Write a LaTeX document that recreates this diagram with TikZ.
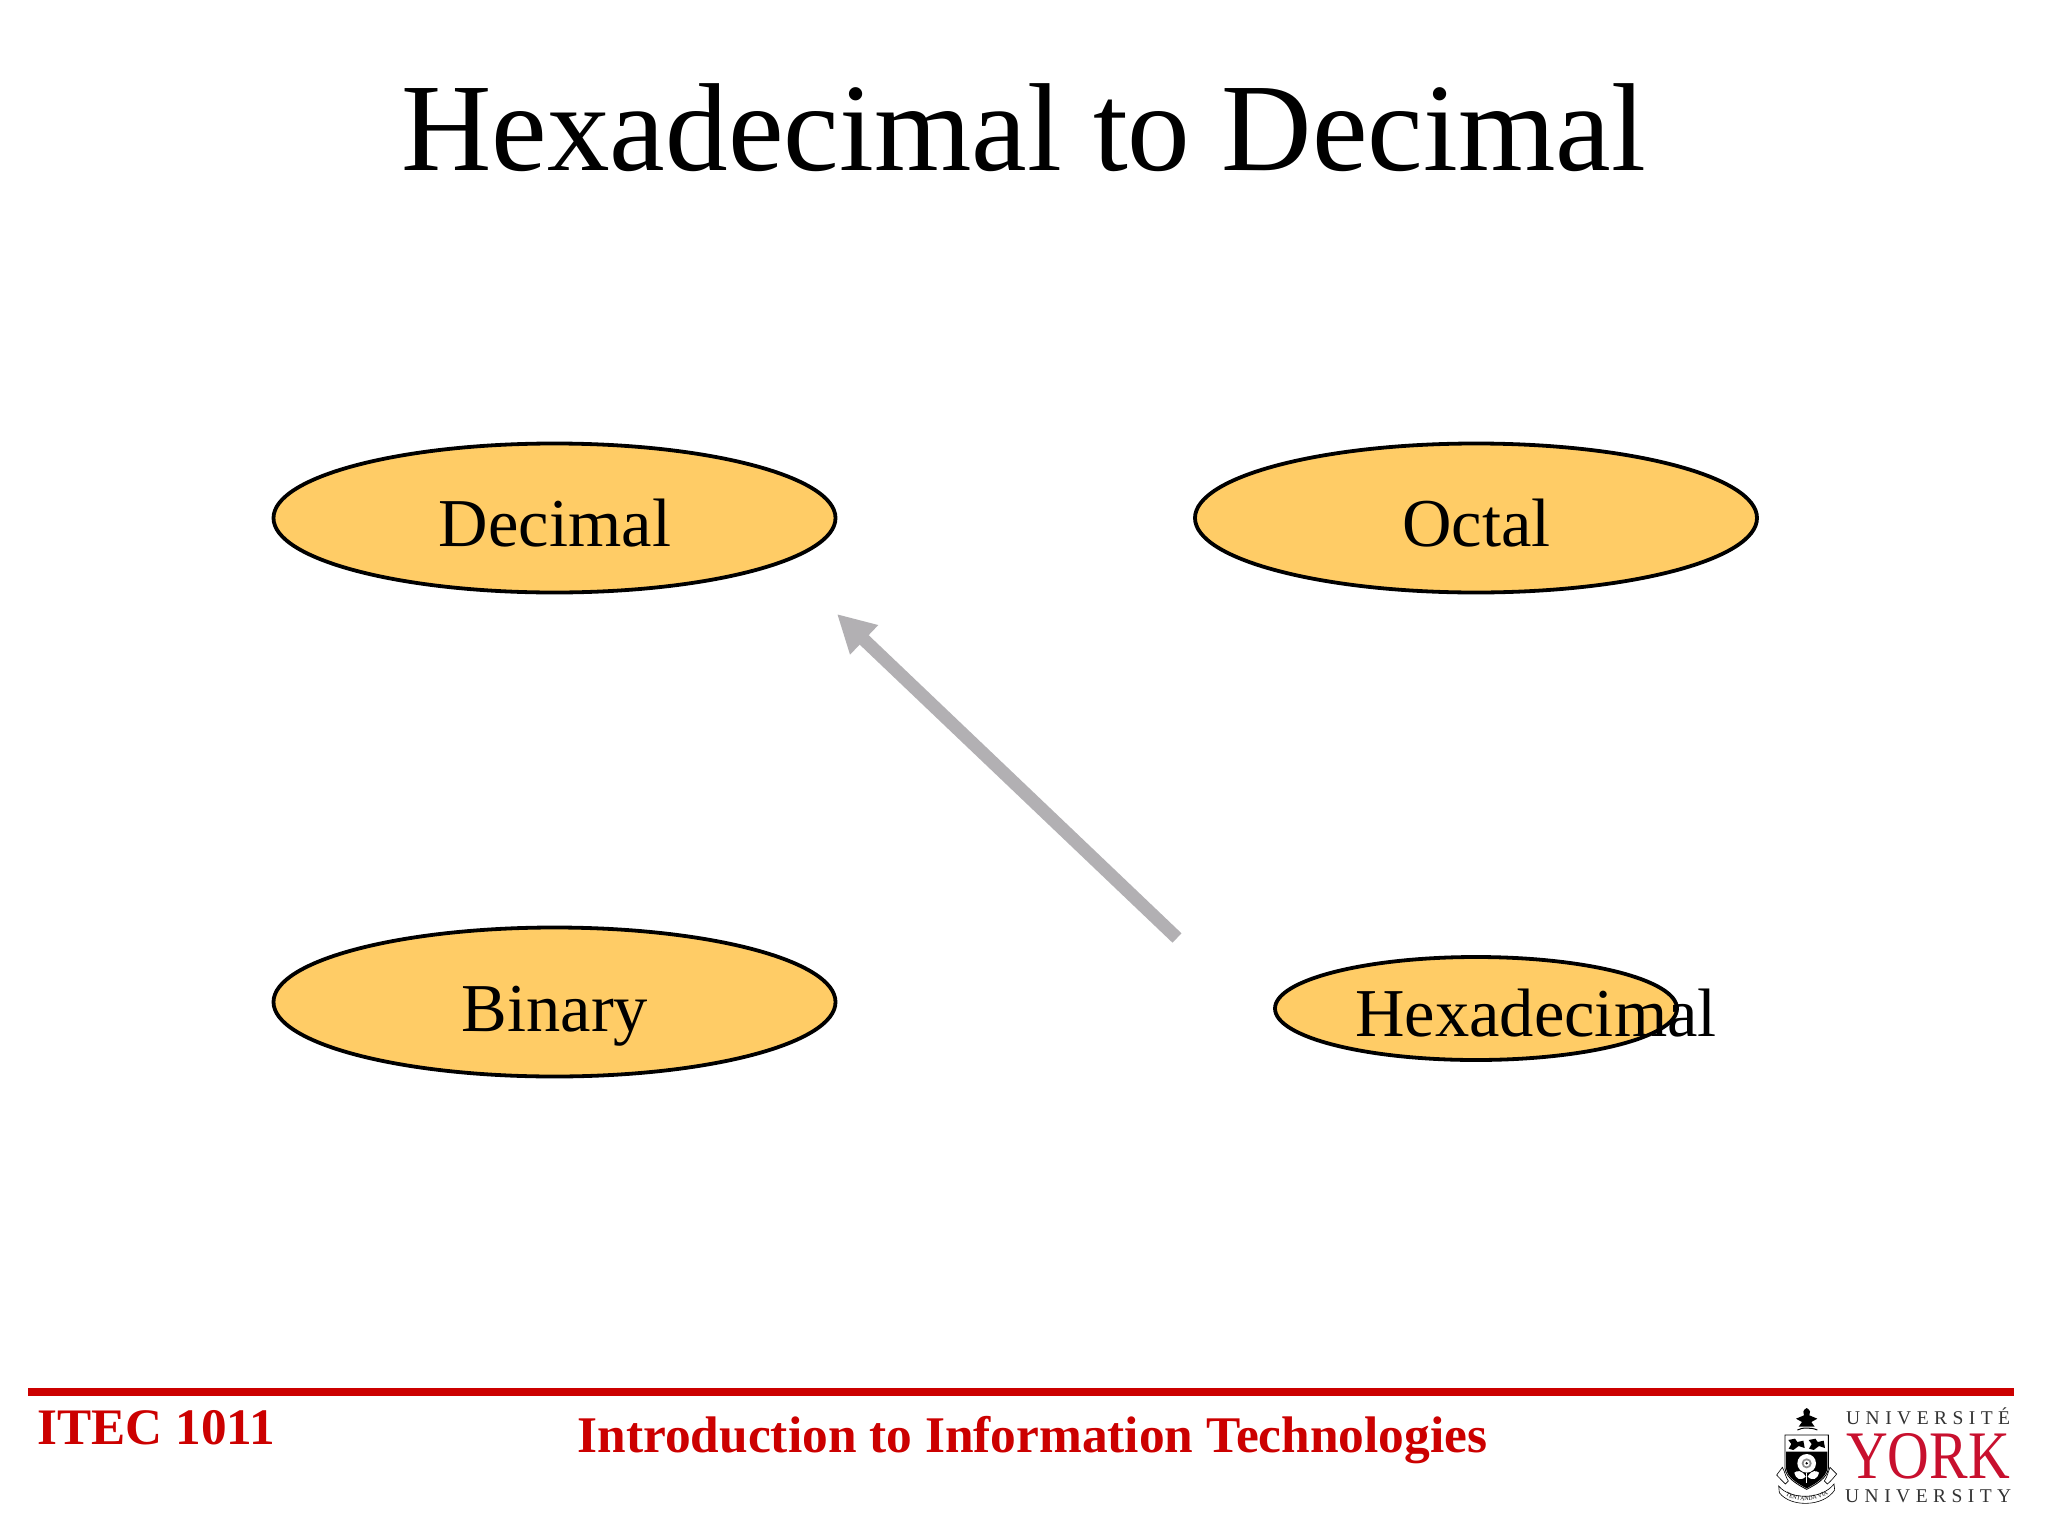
\documentclass[tikz,border=0pt]{standalone}
\usepackage{fontspec}
\setmainfont{Liberation Serif}
\newfontfamily\spacedfont[LetterSpace=28]{Liberation Serif}
\usetikzlibrary{arrows.meta,decorations.text,shapes.geometric}
\definecolor{ovalfill}{HTML}{FFCC66}
\definecolor{arrowgrey}{HTML}{B2B0B3}
\definecolor{itecred}{HTML}{CC0000}
\definecolor{yorkred}{HTML}{C8102E}
\tikzset{
  oval/.style={ellipse,draw=black,line width=3.8pt,fill=ovalfill,inner sep=0pt,minimum width=#1},
  ovaltext/.style={anchor=base,inner sep=0pt,font=\fontsize{68.5}{68}\selectfont,text=black},
  foottext/.style={anchor=base,inner sep=0pt,text=itecred},
  logotext/.style={anchor=base west,inner sep=0pt,text=black!80,font=\spacedfont\fontsize{19.5}{20}\selectfont},
}
\begin{document}
\begin{tikzpicture}[x=1pt,y=-1pt]
\useasboundingbox (0,0) rectangle (2048,1536);
\fill[white] (0,0) rectangle (2048,1536);
\node[anchor=base,inner sep=0pt,font=\fontsize{125.2}{125}\selectfont] (title) at (1023.5,170) {Hexadecimal to Decimal};
\node[oval=562pt,minimum height=149pt] (dec) at (554.5,518) {};
\node[oval=562pt,minimum height=149pt] (oct) at (1476,518) {};
\node[oval=562pt,minimum height=149pt] (bin) at (554.5,1002) {};
\node[oval=402pt,minimum height=103pt] (hex) at (1476,1008.5) {};
\node[ovaltext] (dect) at (555,546) {Decimal};
\node[ovaltext] (octt) at (1476.5,546) {Octal};
\node[ovaltext] (bint) at (555,1031) {Binary};
\node[ovaltext] (hext) at (1536,1036.5) {Hexadecimal};
\coordinate (tail) at (1177,938);
\coordinate (tip) at (837,614);
\draw[arrowgrey,line width=13pt,-{Triangle[length=37.5pt,width=38pt]}] (tail) -- (tip);
\coordinate (ruleL) at (28,1392);
\coordinate (ruleR) at (2014,1392);
\draw[itecred,line width=8.5pt] (ruleL) -- (ruleR);
\node[foottext,font=\bfseries\fontsize{51.2}{51}\selectfont] (course) at (156.5,1444) {ITEC 1011};
\node[foottext,font=\bfseries\fontsize{51.4}{51}\selectfont] (intro) at (1032.5,1452) {Introduction to Information Technologies};
\begin{scope}[shift={(1740,1380)},x=.33333pt,y=-.33333pt]
  \node[logotext] (univ1) at (318,132) {UNIVERSITÉ};
  \node[anchor=base west,inner sep=0pt,text=yorkred,font=\fontsize{68}{68}\selectfont] (york) at (318,295) {\scalebox{.85}[1]{YORK}};
  \node[logotext] (univ2) at (315,367) {UNIVERSITY};
  % crown
  \fill[black] (200,84) .. controls (212,90) and (212,100) .. (208,106) -- (232,116) -- (214,126) -- (224,140) -- (176,140) -- (186,126) -- (168,116) -- (192,106) .. controls (188,100) and (188,90) .. (200,84) -- cycle;
  \draw[black,line width=1pt] (172,150) .. controls (185,142) and (215,142) .. (232,150);
  % shield
  \draw[black,line width=.8pt,fill=white] (135,165) -- (265,165) -- (265,265) .. controls (262,295) and (225,315) .. (200,328) .. controls (175,315) and (138,295) .. (135,265) -- cycle;
  \fill[black] (138,215) -- (262,215) -- (262,265) .. controls (259,293) and (225,312) .. (200,325) .. controls (175,312) and (141,293) .. (138,265) -- cycle;
  % lions
  \fill[black] (145,180) -- (165,176) -- (172,186) -- (190,182) -- (194,204) -- (176,198) -- (160,210) -- (146,206) -- (154,192) -- cycle;
  \fill[black] (206,180) -- (226,176) -- (233,186) -- (251,182) -- (255,204) -- (237,198) -- (221,210) -- (207,206) -- (215,192) -- cycle;
  % rose
  \fill[white] (200,250) circle[radius=28];
  \fill[black!45] (200,250) circle[radius=15];
  \fill[white] (200,250) circle[radius=9];
  \fill[black] (200,250) circle[radius=4];
  \draw[white,line width=1.2pt] (200,278) -- (200,308);
  \fill[white] (197,290) .. controls (185,268) and (170,272) .. (163,278) .. controls (168,298) and (182,304) .. (197,290) -- cycle;
  \fill[white] (203,290) .. controls (215,268) and (230,272) .. (237,278) .. controls (232,298) and (218,304) .. (203,290) -- cycle;
  % scroll
  \draw[black,line width=.6pt,fill=white] (110,285) -- (127,262) .. controls (135,275) and (136,290) .. (145,303) -- (136,312) .. controls (128,304) and (120,296) .. (110,285) -- cycle;
  \draw[black,line width=.6pt,fill=white] (290,282) -- (270,262) .. controls (265,275) and (262,290) .. (253,303) -- (262,312) .. controls (272,304) and (280,294) .. (290,282) -- cycle;
  \draw[black,line width=.6pt,fill=white] (116,318) .. controls (150,360) and (245,360) .. (282,312) -- (284,330) .. controls (250,382) and (150,382) .. (118,338) -- cycle;
  \path[postaction={decorate,decoration={text along path,text align=center,text={|\fontsize{6}{6}\selectfont|TENTANDA VIA}}}] (120,332) .. controls (155,372) and (245,372) .. (280,326);
\end{scope}
\end{tikzpicture}
\end{document}
